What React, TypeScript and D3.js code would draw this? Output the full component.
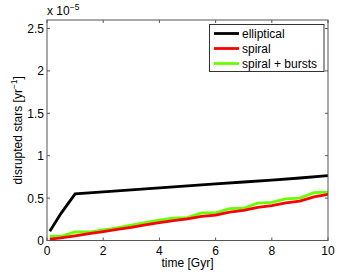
import React from 'react';
import * as d3 from 'd3';

// time axis (Gyr)
const ellTime = [0.1, 0.5, 1, 2, 3, 4, 5, 6, 7, 8, 9, 10];
const ellValues = [0.11, 0.32, 0.55, 0.573, 0.597, 0.62, 0.643, 0.667, 0.69, 0.713, 0.737, 0.765];

const sprTime = [0.1, 0.5, 1, 1.5, 2, 2.5, 3, 3.5, 4, 4.5, 5, 5.5, 6, 6.5, 7, 7.5, 8, 8.5, 9, 9.5, 10];
const spiralValues = [0.015, 0.03, 0.055, 0.08, 0.105, 0.13, 0.155, 0.185, 0.21, 0.235, 0.255, 0.285, 0.3, 0.335, 0.355, 0.39, 0.41, 0.445, 0.465, 0.515, 0.545];
const burstValues = [0.05, 0.05, 0.1, 0.1, 0.125, 0.15, 0.18, 0.21, 0.24, 0.265, 0.27, 0.325, 0.325, 0.375, 0.38, 0.44, 0.45, 0.49, 0.5, 0.565, 0.57];

const xTicks = [0, 2, 4, 6, 8, 10];
const yTicks = [0, 0.5, 1, 1.5, 2, 2.5];

const series = [
  { name: 'elliptical', color: '#000000', x: ellTime, y: ellValues },
  { name: 'spiral + bursts', color: '#66ff00', x: sprTime, y: burstValues },
  { name: 'spiral', color: '#ff0000', x: sprTime, y: spiralValues },
];
const legendOrder = ['elliptical', 'spiral', 'spiral + bursts'];

const W = 362;
const H = 272;
const margin = { top: 20, right: 34, bottom: 31.5, left: 47 };
const font = 'Liberation Sans, Arial, sans-serif';
const fs = 12;

export default function App() {
  const x = d3.scaleLinear().domain([0, 10]).range([margin.left, W - margin.right]);
  const y = d3.scaleLinear().domain([0, 2.6]).range([H - margin.bottom, margin.top]);
  const line = d3.line<[number, number]>().x(d => x(d[0])).y(d => y(d[1]));
  const tk = 3;
  const axisColor = '#555';

  return (
    <svg width={W} height={H} style={{ position: 'absolute', left: 0, top: 0, background: '#fff' }}>
      <rect x={0} y={0} width={W} height={H} fill="#fff" />
      {/* data */}
      {series.map(s => (
        <path key={s.name}
          d={line(s.x.map((t, i) => [t, s.y[i]] as [number, number])) || ''}
          fill="none" stroke={s.color} strokeWidth={2.8} strokeLinejoin="miter" />
      ))}
      {/* box */}
      <rect x={x(0)} y={y(2.6)} width={x(10) - x(0)} height={y(0) - y(2.6)}
        fill="none" stroke={axisColor} strokeWidth={1} />
      {xTicks.map(t => (
        <g key={'x' + t}>
          <line x1={x(t)} x2={x(t)} y1={y(0)} y2={y(0) - tk} stroke={axisColor} />
          <line x1={x(t)} x2={x(t)} y1={y(2.6)} y2={y(2.6) + tk} stroke={axisColor} />
          <text x={x(t)} y={y(0) + 14.5} textAnchor="middle" fontFamily={font} fontSize={fs}>{t}</text>
        </g>
      ))}
      {yTicks.map(t => (
        <g key={'y' + t}>
          <line x1={x(0)} x2={x(0) + tk} y1={y(t)} y2={y(t)} stroke={axisColor} />
          <line x1={x(10)} x2={x(10) - tk} y1={y(t)} y2={y(t)} stroke={axisColor} />
          <text x={x(0) - 3} y={y(t) + 4.5} textAnchor="end" fontFamily={font} fontSize={fs}>{t}</text>
        </g>
      ))}
      {/* exponent */}
      <text x={x(0)} y={15} fontFamily={font} fontSize={fs}>
        x 10<tspan dy={-5} fontSize={8.5}>−5</tspan>
      </text>
      {/* axis labels */}
      <text x={(x(0) + x(10)) / 2} y={267} textAnchor="middle" fontFamily={font} fontSize={fs}>time [Gyr]</text>
      <text transform={`translate(21.5,${(y(0) + y(2.6)) / 2}) rotate(-90)`} textAnchor="middle" fontFamily={font} fontSize={fs}>
        disrupted stars [yr<tspan dy={-5} fontSize={8.5}>−1</tspan><tspan dy={5}>]</tspan>
      </text>
      {/* legend */}
      <g>
        <rect x={209.5} y={24.5} width={114.5} height={47} fill="#fff" stroke="#333" strokeWidth={1} />
        {legendOrder.map((n, i) => {
          const s = series.find(d => d.name === n)!;
          const ly = 33.5 + i * 15;
          return (
            <g key={n}>
              <line x1={214} x2={239} y1={ly} y2={ly} stroke={s.color} strokeWidth={2.8} />
              <text x={242} y={ly + 4.5} fontFamily={font} fontSize={fs}>{n}</text>
            </g>
          );
        })}
      </g>
    </svg>
  );
}
